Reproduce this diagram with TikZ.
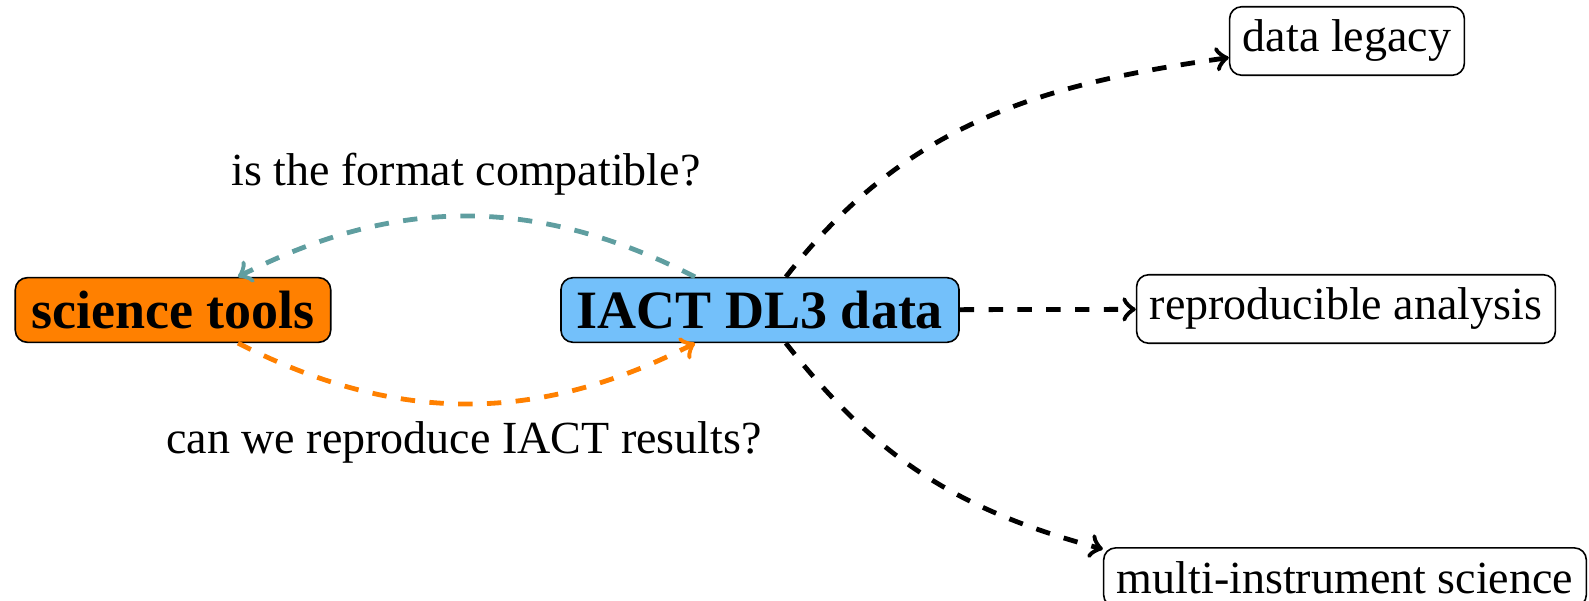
\documentclass[tikz,border=0pt]{standalone}
\usepackage{fontspec}
\setmainfont{Liberation Serif}
\usetikzlibrary{arrows}
\definecolor{toolorange}{RGB}{255,128,0}
\definecolor{dataBlue}{RGB}{115,192,250}
\definecolor{askTeal}{RGB}{95,158,160}
\tikzset{
  box/.style={draw, rounded corners=3pt, line width=0.4pt, inner sep=3.33pt, font=\fontsize{11.5}{13}\selectfont},
  mainbox/.style={box, inner xsep=4pt, font=\fontsize{13.5}{15}\selectfont\bfseries},
  link/.style={->, line width=1.2pt, dash pattern=on 3.6pt off 3.6pt},
  caption/.style={inner sep=0pt, font=\fontsize{11.5}{13}\selectfont}
}
\begin{document}
\begin{tikzpicture}[x=1pt,y=1pt]
\useasboundingbox (0,0) rectangle (397.25,150.25);
\node[mainbox, fill=toolorange] (tools) at (43.25,72.75) {science tools};
\node[mainbox, fill=dataBlue] (dl3) at (190,72.75) {IACT DL3 data};
\node[box] (repro) at (336.5,73) {reproducible analysis};
\node[box] (legacy) at (336.75,140) {data legacy};
\node[box] (multi) at (336.25,5.9) {multi-instrument science};
\node[caption] (q1) at (116.5,106.75) {is the format compatible?};
\node[caption] (q2) at (116,39.75) {can we reproduce IACT results?};
\draw[link, askTeal] (dl3) to[bend right=27] (tools);
\draw[link, toolorange] (tools) to[bend right=27] (dl3);
\draw[link] (dl3) -- (repro);
\draw[link] (dl3) to[out=52, in=188] (legacy);
\draw[link] (dl3) to[out=-52, in=165] ([yshift=-0.5pt]multi.north west);
\end{tikzpicture}
\end{document}
